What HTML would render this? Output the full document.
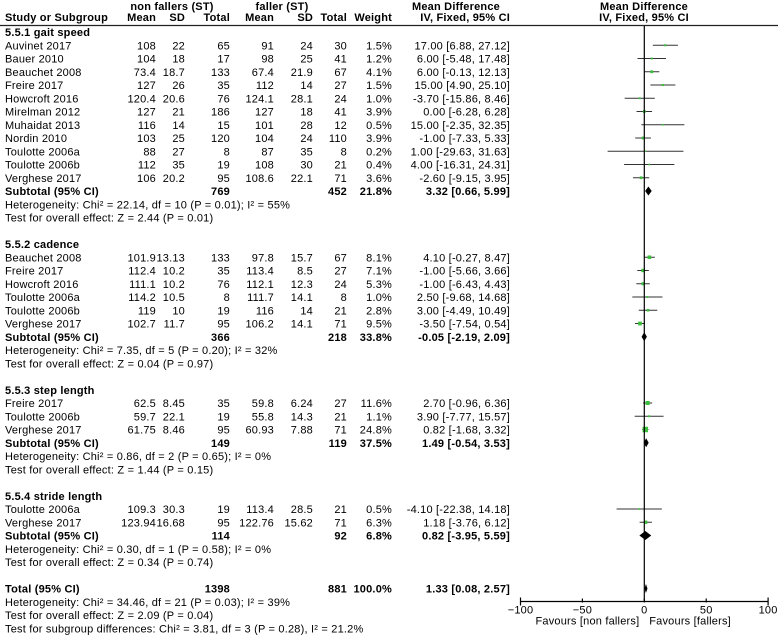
<!DOCTYPE html>
<html><head><meta charset="utf-8"><style>
html,body{margin:0;padding:0;background:#fff;}
svg{display:block;font-family:"Liberation Sans",sans-serif;font-size:11px;letter-spacing:0.2px;}
.b{font-weight:bold;}
</style></head><body>
<svg id="chart" width="778" height="635" viewBox="0 0 778 635" xmlns="http://www.w3.org/2000/svg">
<g id="hdr">
<text class="b" x="172" y="10" text-anchor="middle">non fallers (ST)</text>
<text class="b" x="282" y="10" text-anchor="middle">faller (ST)</text>
<text class="b" x="456" y="10" text-anchor="middle">Mean Difference</text>
<text class="b" x="644" y="10" text-anchor="middle">Mean Difference</text>
<text class="b" x="5" y="21">Study or Subgroup</text>
<text class="b" x="156" y="21" text-anchor="end">Mean</text>
<text class="b" x="185" y="21" text-anchor="end">SD</text>
<text class="b" x="230" y="21" text-anchor="end">Total</text>
<text class="b" x="274" y="21" text-anchor="end">Mean</text>
<text class="b" x="313" y="21" text-anchor="end">SD</text>
<text class="b" x="347" y="21" text-anchor="end">Total</text>
<text class="b" x="392" y="21" text-anchor="end">Weight</text>
<text class="b" x="510" y="21" text-anchor="end">IV, Fixed, 95% CI</text>
<text class="b" x="644" y="21" text-anchor="middle">IV, Fixed, 95% CI</text>
<line x1="0" y1="25.5" x2="778" y2="25.5" stroke="#222" stroke-width="1.2"/>
</g>
<g id="rows"></g>
<g id="marks"></g>
<g id="axis"></g>
</svg>
<script>
const studyNames = ["Auvinet 2017","Bauer 2010","Beauchet 2008","Freire 2017","Howcroft 2016","Mirelman 2012","Muhaidat 2013","Nordin 2010","Toulotte 2006a","Toulotte 2006b","Verghese 2017",
 "Beauchet 2008","Freire 2017","Howcroft 2016","Toulotte 2006a","Toulotte 2006b","Verghese 2017",
 "Freire 2017","Toulotte 2006b","Verghese 2017",
 "Toulotte 2006a","Verghese 2017"];
const studyGroup = [0,0,0,0,0,0,0,0,0,0,0,1,1,1,1,1,1,2,2,2,3,3];
const nfMean = ["108","104","73.4","127","120.4","127","116","103","88","112","106","101.9","112.4","111.1","114.2","119","102.7","62.5","59.7","61.75","109.3","123.94"];
const nfSD = ["22","18","18.7","26","20.6","21","14","25","27","35","20.2","13.13","10.2","10.2","10.5","10","11.7","8.45","22.1","8.46","30.3","16.68"];
const nfN = ["65","17","133","35","76","186","15","120","8","19","95","133","35","76","8","19","95","35","19","95","19","95"];
const fMean = ["91","98","67.4","112","124.1","127","101","104","87","108","108.6","97.8","113.4","112.1","111.7","116","106.2","59.8","55.8","60.93","113.4","122.76"];
const fSD = ["24","25","21.9","14","28.1","18","28","24","35","30","22.1","15.7","8.5","12.3","14.1","14","14.1","6.24","14.3","7.88","28.5","15.62"];
const fN = ["30","41","67","27","24","41","12","110","8","21","71","67","27","24","8","21","71","27","21","71","21","71"];
const studyMD = [17.00,6.00,6.00,15.00,-3.70,0.00,15.00,-1.00,1.00,4.00,-2.60,4.10,-1.00,-1.00,2.50,3.00,-3.50,2.70,3.90,0.82,-4.10,1.18];
const studyLo = [6.88,-5.48,-0.13,4.90,-15.86,-6.28,-2.35,-7.33,-29.63,-16.31,-9.15,-0.27,-5.66,-6.43,-9.68,-4.49,-7.54,-0.96,-7.77,-1.68,-22.38,-3.76];
const studyHi = [27.12,17.48,12.13,25.10,8.46,6.28,32.35,5.33,31.63,24.31,3.95,8.47,3.66,4.43,14.68,10.49,0.54,6.36,15.57,3.32,14.18,6.12];
const studyWeight = [1.5,1.2,4.1,1.5,1.0,3.9,0.5,3.9,0.2,0.4,3.6,8.1,7.1,5.3,1.0,2.8,9.5,11.6,1.1,24.8,0.5,6.3];
const groupNames = ["5.5.1 gait speed","5.5.2 cadence","5.5.3 step length","5.5.4 stride length"];
const groupNfN = ["769","366","149","114"];
const groupFN = ["452","218","119","92"];
const groupMD = [3.32,-0.05,1.49,0.82];
const groupLo = [0.66,-2.19,-0.54,-3.95];
const groupHi = [5.99,2.09,3.53,5.59];
const groupWeight = [21.8,33.8,37.5,6.8];
const groupHet = ["Heterogeneity: Chi² = 22.14, df = 10 (P = 0.01); I² = 55%","Heterogeneity: Chi² = 7.35, df = 5 (P = 0.20); I² = 32%","Heterogeneity: Chi² = 0.86, df = 2 (P = 0.65); I² = 0%","Heterogeneity: Chi² = 0.30, df = 1 (P = 0.58); I² = 0%"];
const groupTest = ["Test for overall effect: Z = 2.44 (P = 0.01)","Test for overall effect: Z = 0.04 (P = 0.97)","Test for overall effect: Z = 1.44 (P = 0.15)","Test for overall effect: Z = 0.34 (P = 0.74)"];
const totalNf = "1398", totalF = "881", totalMD = 1.33, totalLo = 0.08, totalHi = 2.57, totalWeight = 100.0;
const totalNotes = ["Heterogeneity: Chi² = 34.46, df = 21 (P = 0.03); I² = 39%","Test for overall effect: Z = 2.09 (P = 0.04)","Test for subgroup differences: Chi² = 3.81, df = 3 (P = 0.28), I² = 21.2%"];
const axisTicks = [-100,-50,0,50,100];
const axisLabels = ["-100","-50","0","50","100"];

const NS="http://www.w3.org/2000/svg";
const X0=644.3, SC=1.238;
const xs = v => X0 + v*SC;
const rowY = k => 32 + 13.25*k;
const rowsG=document.getElementById('rows'), marksG=document.getElementById('marks'), axisG=document.getElementById('axis');
function mk(tag, attrs, parent){const e=document.createElementNS(NS,tag);for(const k in attrs)e.setAttribute(k,attrs[k]);parent.appendChild(e);return e;}
function txt(s,x,y,anchor,bold,parent){const t=mk('text',{x:x,y:y+4,'text-anchor':anchor||'start'},parent);if(bold)t.setAttribute('font-weight','bold');t.textContent=s;return t;}
const f2=v=>v.toFixed(2), ci=(m,l,h)=>f2(m)+" ["+f2(l)+", "+f2(h)+"]";
function diamond(m,l,h,y,name){
  const p=mk('polygon',{points:`${xs(l)},${y} ${xs(m)},${y-4.5} ${xs(h)},${y} ${xs(m)},${y+4.5}`,fill:'#000'},marksG);
  
  
}
let k=0;
for(let g=0; g<groupNames.length; g++){
  const h=txt(groupNames[g],5,rowY(k),'start',true,rowsG);
  
  
  k++;
  for(let i=0;i<studyNames.length;i++){
    if(studyGroup[i]!==g) continue;
    const y=rowY(k);
    const n=txt(studyNames[i],5,y,'start',false,rowsG);
    
    
    txt(nfMean[i],156,y,'end',false,rowsG);
    txt(nfSD[i],185,y,'end',false,rowsG);
    txt(nfN[i],230,y,'end',false,rowsG);
    txt(fMean[i],274,y,'end',false,rowsG);
    txt(fSD[i],313,y,'end',false,rowsG);
    txt(fN[i],347,y,'end',false,rowsG);
    txt(studyWeight[i].toFixed(1)+"%",392,y,'end',false,rowsG);
    txt(ci(studyMD[i],studyLo[i],studyHi[i]),510,y,'end',false,rowsG);
    const ln=mk('line',{x1:xs(studyLo[i]),x2:xs(studyHi[i]),y1:y,y2:y,stroke:'#333','stroke-width':1},marksG);
    
    
    const s=1+Math.sqrt(studyWeight[i])*0.9;
    const r=mk('rect',{x:xs(studyMD[i])-s/2,y:y-s/2,width:s,height:s,fill:'#3cbf3c'},marksG);
    
    
    k++;
  }
  const y=rowY(k);
  const st=txt("Subtotal (95% CI)",5,y,'start',true,rowsG);
  
  
  txt(groupNfN[g],230,y,'end',true,rowsG);
  txt(groupFN[g],347,y,'end',true,rowsG);
  txt(groupWeight[g].toFixed(1)+"%",392,y,'end',true,rowsG);
  txt(ci(groupMD[g],groupLo[g],groupHi[g]),510,y,'end',true,rowsG);
  diamond(groupMD[g],groupLo[g],groupHi[g],y,'subtotal-diamond');
  k++;
  txt(groupHet[g],5,rowY(k),'start',false,rowsG); k++;
  txt(groupTest[g],5,rowY(k),'start',false,rowsG); k+=2;
}
let y=rowY(k);
const tl=txt("Total (95% CI)",5,y,'start',true,rowsG);


txt(totalNf,230,y,'end',true,rowsG);
txt(totalF,347,y,'end',true,rowsG);
txt(totalWeight.toFixed(1)+"%",392,y,'end',true,rowsG);
txt(ci(totalMD,totalLo,totalHi),510,y,'end',true,rowsG);
diamond(totalMD,totalLo,totalHi,y,'total-diamond');
k++;
for(const s of totalNotes){txt(s,5,rowY(k),'start',false,rowsG);k++;}
const AY=601.5;
const z=mk('line',{x1:xs(0),x2:xs(0),y1:26,y2:AY,stroke:'#000','stroke-width':1.2},axisG);


mk('line',{x1:xs(axisTicks[0]),x2:xs(axisTicks[axisTicks.length-1]),y1:AY,y2:AY,stroke:'#000','stroke-width':1.2},axisG);
for(let i=0;i<axisTicks.length;i++){
  const end=(i===0||i===axisTicks.length-1);
  mk('line',{x1:xs(axisTicks[i]),x2:xs(axisTicks[i]),y1:end?AY-4:AY-3,y2:end?AY+4:AY+1,stroke:'#000','stroke-width':1.2},axisG);
  const t=txt(axisLabels[i].replace('-','\u2212'),xs(axisTicks[i]),AY+8,'middle',false,axisG);
  
  
}
const fa=txt("Favours [non fallers]",xs(-4),AY+19,'end',false,axisG);


const fb=txt("Favours [fallers]",xs(4),AY+19,'start',false,axisG);


</script>
</body></html>
